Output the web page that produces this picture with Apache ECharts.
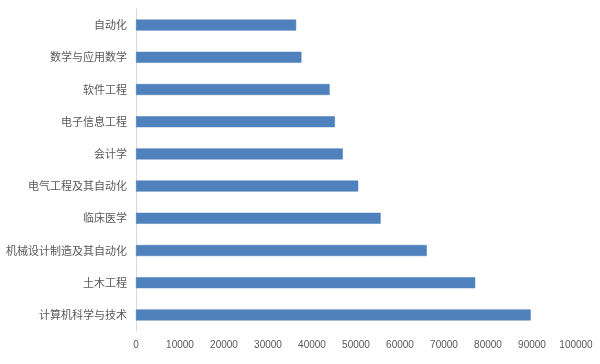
<!DOCTYPE html>
<html><head><meta charset="utf-8">
<script src="https://cdn.jsdelivr.net/npm/echarts@6/dist/echarts.min.js"></script>
<style>html,body{margin:0;padding:0;background:#fff}#c{width:600px;height:364px}</style>
</head><body><div id="c"></div>
<script>
const categories = ['计算机科学与技术','土木工程','机械设计制造及其自动化','临床医学','电气工程及其自动化','会计学','电子信息工程','软件工程','数学与应用数学','自动化'];
const values = [89700, 77100, 66100, 55600, 50500, 47000, 45200, 44000, 37600, 36400];
const xMin = 0, xMax = 100000, xInterval = 10000;

const chart = echarts.init(document.getElementById('c'));
chart.setOption({
  animation: false,
  grid: {left: 136, right: 24, top: 9, bottom: 33, containLabel: false},
  xAxis: {
    type: 'value', min: xMin, max: xMax, interval: xInterval,
    axisLine: {show: false}, axisTick: {show: false}, splitLine: {show: false},
    axisLabel: {color: '#595959', fontSize: 10, margin: 9, formatter: v => String(v),
      fontFamily: '"Liberation Sans Narrow", "Liberation Sans", sans-serif'}
  },
  yAxis: {
    type: 'category', data: categories,
    axisLine: {show: true, lineStyle: {color: '#d9d9d9', width: 1}},
    axisTick: {show: false},
    axisLabel: {color: '#595959', fontSize: 11, margin: 9, fontFamily: '"Noto Sans CJK SC", sans-serif'}
  },
  series: [{
    type: 'bar', data: values, barWidth: 11,
    itemStyle: {color: '#4f81bd', borderColor: '#4a7ebb', borderWidth: 0.5}
  }]
});
</script></body></html>
